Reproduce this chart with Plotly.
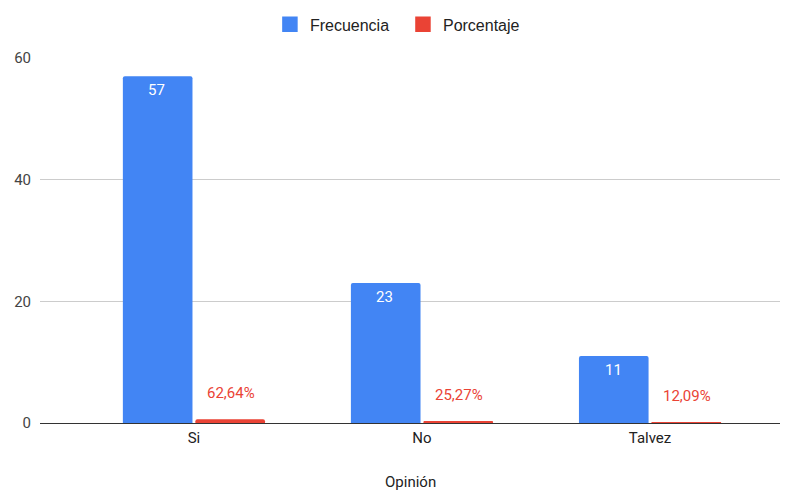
import plotly.graph_objects as go

categorias = ["Si", "No", "Talvez"]
frecuencia = [57, 23, 11]
porcentaje = [0.6264, 0.2527, 0.1209]
etiquetas_pct = ["62,64%", "25,27%", "12,09%"]

AZUL = "#4285F4"
ROJO = "#EA4335"
FUENTE = "Roboto, Arial, sans-serif"

fig = go.Figure()
fig.add_trace(go.Bar(
    x=categorias, y=frecuencia, name="Frecuencia", showlegend=False,
    marker=dict(color=AZUL, line=dict(width=0)),
))
fig.add_trace(go.Bar(
    x=categorias, y=porcentaje, name="Porcentaje", showlegend=False,
    marker=dict(color=ROJO, line=dict(width=0)),
))

# Entradas de leyenda con cuadrados grandes
for nombre, color in [("Frecuencia  ", AZUL), ("Porcentaje", ROJO)]:
    fig.add_trace(go.Scatter(
        x=[None], y=[None], mode="markers", name=nombre,
        marker=dict(symbol="square", size=14, color=color,
                    line=dict(width=1.5, color=color)),
    ))

# Valores de frecuencia dentro de las barras azules
for cat, val in zip(categorias, frecuencia):
    fig.add_annotation(
        x=cat, y=val, xref="x", yref="y", text=str(val), showarrow=False,
        xshift=-37, yshift=-14, yanchor="middle",
        font=dict(color="white", size=15, family=FUENTE),
    )

# Etiquetas de porcentaje por encima de las barras rojas
for cat, val, txt in zip(categorias, porcentaje, etiquetas_pct):
    fig.add_annotation(
        x=cat, y=val, xref="x", yref="y", text=txt, showarrow=False,
        xshift=37, yshift=15, yanchor="bottom",
        font=dict(color=ROJO, size=15, family=FUENTE),
    )

# Título del eje X
fig.add_annotation(
    x=0.5, y=-0.162, xref="paper", yref="paper", text="Opinión", showarrow=False,
    yanchor="middle", font=dict(size=15, color="#222222", family=FUENTE),
)

fig.update_layout(
    width=793, height=491,
    margin=dict(l=40, r=13, t=58, b=68),
    paper_bgcolor="white", plot_bgcolor="white",
    barmode="group", bargap=0.364, bargroupgap=0.04,
    barcornerradius=2,
    font=dict(family=FUENTE, size=14, color="#444444"),
    legend=dict(orientation="h", x=0.483, xanchor="center", y=0.985, yanchor="top",
                yref="container", font=dict(size=16, color="#222222", family="Arial, Liberation Sans, sans-serif"),
                itemwidth=30, traceorder="normal"),
    showlegend=True,
)
fig.update_xaxes(
    range=[-0.675, 2.57], showgrid=False, ticks="", automargin=False,
    tickfont=dict(size=15, color="#222222"), showline=False, ticklabelstandoff=4,
)
fig.update_yaxes(
    range=[0, 60], tickvals=[0, 20, 40, 60], showgrid=True, gridcolor="#cccccc",
    gridwidth=1, zeroline=True, zerolinecolor="#333333", zerolinewidth=1,
    tickfont=dict(size=15, color="#444444"), ticks="", ticklabelstandoff=8,
    automargin=False,
)

fig.write_html("out.html")
